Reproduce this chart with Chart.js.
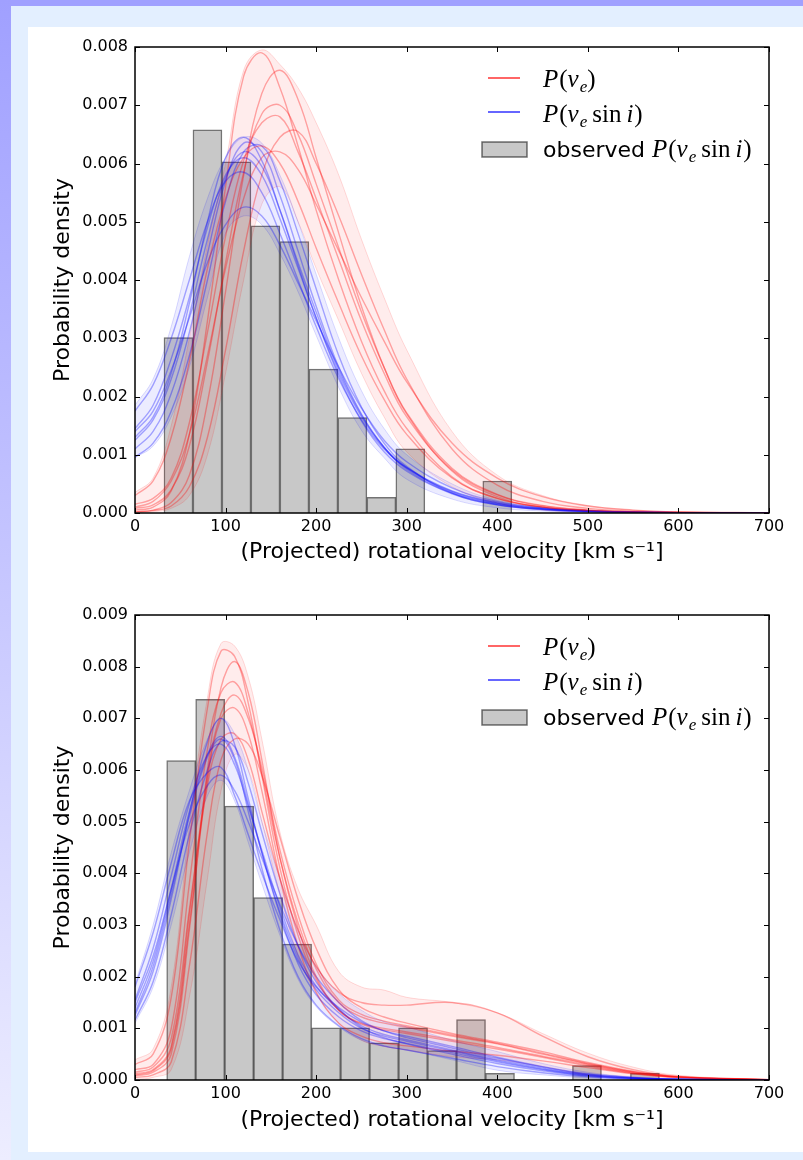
<!DOCTYPE html>
<html lang="en">
<head>
<meta charset="UTF-8">
<title>Rotational velocity distributions</title>
<style>
  html, body { margin: 0; padding: 0; }
  body { width: 803px; height: 1160px; position: relative; overflow: hidden; background: #e3efff; }
  #topband { position: absolute; left: 0; top: 0; width: 803px; height: 6px; background: #a0a0ff; }
  #sideband { position: absolute; left: 0; top: 0; width: 11px; height: 1160px; background: linear-gradient(#a0a0ff, #ededff); }
  #panel { position: absolute; left: 28px; top: 27px; width: 775px; height: 1125px; background: #fff; }
  #panel canvas { position: absolute; left: 0; }
</style>
</head>
<body>
<div id="topband"></div>
<div id="sideband"></div>
<div id="panel">
  <canvas id="chartTop" width="775" height="568" style="top:0"></canvas>
  <canvas id="chartBottom" width="775" height="557" style="top:568px"></canvas>
</div>

<script src="https://cdn.jsdelivr.net/npm/chart.js"></script>
<script>
// all densities below are in units of 1e-3 (per km/s)
const densityUnit = 1e-3;

// ---- top panel ----
const gridTop = [0, 20, 40, 60, 80, 100, 120, 140, 160, 180, 200, 225, 250, 275, 300, 350, 400, 450, 500, 550, 600, 700];

const blueTop = [
  [1.75, 2.2, 3.0, 4.0, 5.0, 5.7, 5.85, 5.5, 4.8, 4.0, 3.2, 2.3, 1.6, 1.1, 0.78, 0.38, 0.18, 0.08, 0.035, 0.015, 0.007, 0.002],
  [1.45, 1.85, 2.65, 3.7, 4.9, 5.8, 6.1, 5.8, 5.05, 4.2, 3.35, 2.4, 1.65, 1.12, 0.78, 0.37, 0.17, 0.075, 0.032, 0.014, 0.006, 0.002],
  [1.25, 1.6, 2.3, 3.4, 4.7, 5.75, 6.2, 5.95, 5.2, 4.3, 3.45, 2.45, 1.68, 1.13, 0.77, 0.36, 0.16, 0.07, 0.03, 0.013, 0.006, 0.002],
  [1.1, 1.4, 2.05, 3.1, 4.45, 5.7, 6.35, 6.2, 5.45, 4.5, 3.55, 2.5, 1.7, 1.13, 0.75, 0.34, 0.15, 0.065, 0.028, 0.012, 0.005, 0.001],
  [0.96, 1.2, 1.75, 2.7, 4.0, 5.35, 6.2, 6.3, 5.7, 4.8, 3.85, 2.7, 1.82, 1.2, 0.8, 0.34, 0.14, 0.058, 0.024, 0.01, 0.004, 0.001],
  [1.4, 1.75, 2.45, 3.35, 4.3, 4.95, 5.25, 5.1, 4.6, 3.95, 3.3, 2.5, 1.8, 1.25, 0.88, 0.43, 0.2, 0.09, 0.04, 0.017, 0.007, 0.002],
  [1.3, 1.65, 2.4, 3.6, 5.0, 6.1, 6.45, 6.05, 5.2, 4.25, 3.35, 2.35, 1.58, 1.05, 0.72, 0.33, 0.14, 0.06, 0.026, 0.011, 0.005, 0.001]
];
const blueTopUpper = [1.85, 2.3, 3.2, 4.4, 5.4, 6.1, 6.45, 6.35, 5.8, 5.0, 4.1, 3.0, 2.1, 1.45, 1.0, 0.5, 0.22, 0.1, 0.045, 0.02, 0.008, 0.002];
const blueTopLower = [0.95, 1.15, 1.65, 2.5, 3.7, 4.8, 5.1, 4.95, 4.45, 3.8, 3.05, 2.15, 1.42, 0.95, 0.58, 0.24, 0.09, 0.035, 0.014, 0.005, 0.002, 0];

const redTop = [
  [0.3, 0.55, 1.3, 2.6, 4.2, 5.4, 6.1, 6.3, 6.0, 5.35, 4.55, 3.6, 2.7, 1.95, 1.35, 0.6, 0.25, 0.1, 0.04, 0.016, 0.006, 0.001],
  [0.15, 0.25, 0.6, 1.55, 3.1, 4.75, 6.05, 6.7, 6.8, 6.2, 5.4, 4.35, 3.3, 2.4, 1.65, 0.74, 0.31, 0.12, 0.05, 0.02, 0.008, 0.002],
  [0.08, 0.14, 0.4, 1.15, 2.6, 4.3, 5.85, 6.85, 7.0, 6.5, 5.65, 4.55, 3.45, 2.5, 1.72, 0.77, 0.32, 0.13, 0.05, 0.02, 0.008, 0.002],
  [0.05, 0.1, 0.38, 1.35, 3.3, 5.6, 7.5, 7.9, 7.3, 6.3, 5.2, 4.0, 2.95, 2.1, 1.45, 0.62, 0.25, 0.1, 0.04, 0.015, 0.006, 0.001],
  [0.02, 0.04, 0.12, 0.45, 1.3, 2.8, 4.5, 5.8, 6.45, 6.55, 6.0, 5.1, 4.1, 3.15, 2.3, 1.1, 0.48, 0.2, 0.08, 0.03, 0.012, 0.002],
  [0.02, 0.05, 0.18, 0.65, 1.9, 3.8, 5.8, 7.2, 7.6, 7.1, 6.1, 4.8, 3.55, 2.5, 1.7, 0.72, 0.28, 0.1, 0.04, 0.015, 0.006, 0.001],
  [0.1, 0.2, 0.55, 1.35, 2.7, 4.2, 5.4, 6.1, 6.2, 5.9, 5.3, 4.5, 3.7, 2.95, 2.25, 1.2, 0.6, 0.28, 0.12, 0.05, 0.02, 0.004]
];
const redTopUpper = [0.35, 0.6, 1.5, 3.0, 4.6, 6.0, 7.6, 7.95, 7.7, 7.3, 6.7, 5.8, 4.7, 3.7, 2.8, 1.4, 0.65, 0.3, 0.13, 0.05, 0.02, 0.004];
const redTopLower = [0, 0.02, 0.08, 0.3, 1.0, 2.4, 4.0, 5.3, 5.6, 5.0, 4.2, 3.3, 2.4, 1.65, 1.05, 0.45, 0.17, 0.05, 0.02, 0.006, 0.002, 0];

const histTopCenters = [48, 80, 112, 144, 176, 208, 240, 272, 304, 336, 368, 400];
const histTopDensity = [3.01, 6.58, 6.03, 4.93, 4.66, 2.47, 1.64, 0.27, 1.10, 0, 0, 0.55];
const yMaxTop = 8;

// ---- bottom panel ----
const gridBottom = [0, 20, 40, 60, 80, 95, 110, 125, 140, 160, 180, 200, 225, 250, 275, 300, 350, 400, 450, 500, 550, 600, 700];

const blueBottom = [
  [1.8, 2.85, 4.2, 5.4, 5.95, 6.05, 5.5, 4.75, 4.0, 3.1, 2.3, 1.8, 1.4, 1.12, 0.95, 0.85, 0.65, 0.44, 0.26, 0.12, 0.05, 0.018, 0.002],
  [1.55, 2.55, 3.95, 5.35, 6.3, 6.5, 6.1, 5.3, 4.45, 3.35, 2.42, 1.82, 1.36, 1.05, 0.88, 0.78, 0.58, 0.39, 0.23, 0.1, 0.04, 0.015, 0.002],
  [1.4, 2.3, 3.7, 5.2, 6.3, 6.65, 6.25, 5.35, 4.4, 3.25, 2.35, 1.75, 1.3, 1.0, 0.85, 0.75, 0.56, 0.37, 0.21, 0.09, 0.035, 0.012, 0.002],
  [1.25, 2.1, 3.5, 5.15, 6.55, 7.0, 6.5, 5.45, 4.4, 3.2, 2.25, 1.65, 1.22, 0.95, 0.8, 0.71, 0.53, 0.35, 0.2, 0.085, 0.03, 0.01, 0.001],
  [1.16, 1.9, 3.2, 4.75, 6.0, 6.55, 6.45, 5.75, 4.8, 3.6, 2.6, 1.9, 1.38, 1.02, 0.82, 0.7, 0.5, 0.32, 0.18, 0.075, 0.028, 0.01, 0.001],
  [1.5, 2.4, 3.7, 4.95, 5.7, 5.9, 5.6, 5.0, 4.3, 3.4, 2.6, 2.0, 1.5, 1.15, 0.95, 0.82, 0.62, 0.42, 0.25, 0.11, 0.045, 0.016, 0.002],
  [1.3, 2.2, 3.6, 5.1, 6.25, 6.6, 6.2, 5.2, 4.1, 2.9, 2.0, 1.45, 1.05, 0.8, 0.66, 0.58, 0.42, 0.26, 0.14, 0.06, 0.02, 0.007, 0.001]
];
const blueBottomUpper = [1.85, 3.0, 4.4, 5.6, 6.6, 7.0, 6.7, 6.0, 5.0, 3.9, 2.9, 2.2, 1.68, 1.35, 1.13, 1.03, 0.77, 0.55, 0.32, 0.15, 0.06, 0.02, 0.003];
const blueBottomLower = [1.1, 1.8, 3.0, 4.4, 5.5, 5.8, 5.4, 4.6, 3.8, 2.8, 1.95, 1.42, 1.03, 0.77, 0.65, 0.58, 0.39, 0.19, 0.1, 0.04, 0.015, 0.005, 0];

const redBottom = [
  [0.3, 0.5, 1.6, 4.6, 7.2, 8.3, 8.2, 7.3, 5.9, 4.1, 2.8, 1.95, 1.35, 1.1, 1.0, 0.93, 0.78, 0.63, 0.46, 0.29, 0.14, 0.055, 0.004],
  [0.2, 0.3, 1.0, 3.8, 6.4, 7.5, 7.7, 7.1, 5.95, 4.3, 3.05, 2.15, 1.5, 1.22, 1.1, 1.02, 0.85, 0.7, 0.5, 0.31, 0.15, 0.06, 0.005],
  [0.12, 0.2, 0.65, 3.2, 5.9, 7.1, 7.45, 7.0, 6.05, 4.45, 3.2, 2.25, 1.55, 1.27, 1.14, 1.05, 0.87, 0.71, 0.52, 0.32, 0.16, 0.06, 0.005],
  [0.05, 0.1, 0.35, 2.2, 4.8, 6.2, 6.6, 6.5, 5.9, 4.7, 3.5, 2.55, 1.75, 1.4, 1.22, 1.1, 0.9, 0.73, 0.55, 0.34, 0.17, 0.065, 0.006],
  [0.08, 0.15, 0.5, 2.9, 6.0, 7.6, 8.1, 7.5, 6.2, 4.3, 2.95, 2.0, 1.35, 1.08, 0.97, 0.9, 0.75, 0.6, 0.44, 0.27, 0.13, 0.05, 0.004],
  [0.15, 0.25, 0.8, 3.3, 5.7, 6.6, 6.7, 6.2, 5.2, 3.9, 2.9, 2.2, 1.7, 1.5, 1.45, 1.45, 1.5, 1.3, 0.85, 0.45, 0.2, 0.07, 0.006],
  [0.1, 0.18, 0.6, 3.0, 5.8, 7.0, 7.2, 6.7, 5.6, 3.9, 2.6, 1.7, 1.1, 0.85, 0.72, 0.66, 0.56, 0.48, 0.37, 0.24, 0.12, 0.045, 0.004]
];
const redBottomUpper = [0.39, 0.6, 1.8, 4.9, 7.4, 8.45, 8.4, 7.8, 6.6, 4.8, 3.7, 3.0, 2.1, 1.8, 1.74, 1.6, 1.5, 1.3, 0.9, 0.52, 0.25, 0.09, 0.01];
const redBottomLower = [0, 0.05, 0.2, 1.6, 3.9, 5.6, 6.3, 6.0, 5.0, 3.6, 2.4, 1.68, 1.1, 0.77, 0.65, 0.58, 0.45, 0.39, 0.26, 0.1, 0.04, 0.01, 0];

const histBottomCenters = [51, 83, 115, 147, 179, 211, 243, 275, 307, 339, 371, 403, 435, 467, 499, 531, 563];
const histBottomDensity = [6.18, 7.37, 5.30, 3.53, 2.63, 1.01, 1.01, 0.72, 1.01, 0.57, 1.17, 0.13, 0, 0, 0.28, 0, 0.13];
const yMaxBottom = 9;

// axis text
const xTitle = '(Projected) rotational velocity [km s\u207B\u00B9]';
const yTitle = 'Probability density';

// legend entries, math parts: i = italic, r = roman, s = subscript, g = small gap
const legendRed = [['P', 'i'], ['(', 'r'], ['v', 'i'], ['e', 's'], [')', 'r']];
const legendBlue = [['P', 'i'], ['(', 'r'], ['v', 'i'], ['e', 's'], ['', 'g'], ['sin', 'r'], ['', 'g'], ['i', 'i'], [')', 'r']];
const legendHistWord = 'observed ';

const SANS = '"DejaVu Sans", "Liberation Sans", sans-serif';
const SERIF = '"Liberation Serif", "DejaVu Serif", serif';

function toPoints(xs, vals) {
  return xs.map((x, i) => ({ x: x, y: vals[i] * densityUnit }));
}

function drawMath(ctx, x, y, parts) {
  parts.forEach(([t, s]) => {
    if (s === 'g') { x += 5; return; }
    let dy = 0;
    if (s === 'i') ctx.font = 'italic 25px ' + SERIF;
    else if (s === 'r') ctx.font = '25px ' + SERIF;
    else { ctx.font = 'italic 17px ' + SERIF; dy = 5; }
    ctx.fillText(t, x, y + dy);
    x += ctx.measureText(t).width + (s === 'i' ? 1 : 0);
  });
  return x;
}

const mathLegend = {
  id: 'mathLegend',
  afterDraw(chart) {
    const { ctx, chartArea: a } = chart;
    ctx.save();
    ctx.textBaseline = 'alphabetic';
    ctx.textAlign = 'left';
    ctx.lineWidth = 1.5;
    // line handles
    ctx.strokeStyle = 'rgba(255,0,0,0.8)';
    ctx.beginPath(); ctx.moveTo(a.left + 353, a.top + 31); ctx.lineTo(a.left + 385, a.top + 31); ctx.stroke();
    ctx.strokeStyle = 'rgba(0,0,255,0.8)';
    ctx.beginPath(); ctx.moveTo(a.left + 353, a.top + 65); ctx.lineTo(a.left + 385, a.top + 65); ctx.stroke();
    // histogram patch
    ctx.fillStyle = '#c8c8c8';
    ctx.fillRect(a.left + 347, a.top + 95, 45, 15);
    ctx.strokeStyle = 'rgba(0,0,0,0.55)';
    ctx.strokeRect(a.left + 347, a.top + 95, 45, 15);
    ctx.fillStyle = '#000';
    drawMath(ctx, a.left + 408, a.top + 40, legendRed);
    drawMath(ctx, a.left + 408, a.top + 75, legendBlue);
    ctx.font = '22px ' + SANS;
    ctx.fillText(legendHistWord, a.left + 408, a.top + 110);
    const w = ctx.measureText(legendHistWord).width;
    drawMath(ctx, a.left + 408 + w, a.top + 110, legendBlue);
    ctx.restore();
  }
};

// matplotlib style frame with inward ticks on all four sides
const frameTicks = {
  id: 'frameTicks',
  afterDatasetsDraw(chart) {
    const { ctx, chartArea: a, scales: { x, y } } = chart;
    ctx.save();
    ctx.strokeStyle = '#000';
    ctx.lineWidth = 1;
    ctx.beginPath();
    x.ticks.forEach(t => {
      const px = Math.round(x.getPixelForValue(t.value)) + 0.5;
      ctx.moveTo(px, a.bottom); ctx.lineTo(px, a.bottom - 5);
      ctx.moveTo(px, a.top); ctx.lineTo(px, a.top + 5);
    });
    y.ticks.forEach(t => {
      const py = Math.round(y.getPixelForValue(t.value)) + 0.5;
      ctx.moveTo(a.left, py); ctx.lineTo(a.left + 5, py);
      ctx.moveTo(a.right, py); ctx.lineTo(a.right - 5, py);
    });
    ctx.stroke();
    ctx.lineWidth = 1.5;
    ctx.strokeRect(a.left, a.top, a.right - a.left, a.bottom - a.top);
    ctx.restore();
  }
};

function curve(data, color, alpha, width) {
  return {
    type: 'line', data: data,
    borderColor: `rgba(${color},${alpha})`, borderWidth: width,
    pointRadius: 0, tension: 0.4, fill: false, order: 1
  };
}

function makeChart(id, grid, reds, blues, bands, centers, dens, yMax, xAxisH, titlePad) {
  const datasets = [];
  for (let i = 0; i < reds.length; i++) {
    datasets.push(curve(toPoints(grid, blues[i]), '0,0,255', 0.33, 1.4));
    datasets.push(curve(toPoints(grid, reds[i]), '255,0,0', 0.33, 1.4));
  }
  // faint envelopes of the sample curves (upper fills down to lower)
  bands.forEach(([upper, lower, color]) => {
    const up = curve(toPoints(grid, upper), color, 0.14, 1);
    up.fill = '+1';
    up.backgroundColor = `rgba(${color},0.075)`;
    up.order = 5;
    const lo = curve(toPoints(grid, lower), color, 0.14, 1);
    lo.order = 5;
    datasets.push(up, lo);
  });
  datasets.push({
    type: 'bar', data: toPoints(centers, dens),
    backgroundColor: '#c8c8c8', borderColor: 'rgba(0,0,0,0.55)', borderWidth: 1.5,
    barPercentage: 1, categoryPercentage: 1, order: 10
  });

  return new Chart(document.getElementById(id), {
    type: 'bar',
    data: { datasets: datasets },
    options: {
      responsive: false,
      animation: false,
      devicePixelRatio: 1,
      layout: { padding: { top: 20, right: 34, left: 0, bottom: 0 } },
      plugins: { legend: { display: false }, tooltip: { enabled: false } },
      scales: {
        x: {
          type: 'linear', min: 0, max: 700, offset: false,
          ticks: { stepSize: 100, color: '#000', padding: 4, maxRotation: 0, autoSkip: false,
                   font: { family: SANS, size: 16 } },
          grid: { display: false, drawTicks: false, offset: false },
          border: { display: false },
          title: { display: true, text: xTitle, color: '#000',
                   font: { family: SANS, size: 22 }, padding: { top: 0, bottom: titlePad } },
          afterFit: s => { s.height = xAxisH; }
        },
        y: {
          min: 0, max: yMax * densityUnit,
          ticks: { stepSize: densityUnit, color: '#000', padding: 7,
                   font: { family: SANS, size: 16 },
                   callback: v => v.toFixed(3) },
          grid: { display: false, drawTicks: false },
          border: { display: false },
          title: { display: true, text: yTitle, color: '#000',
                   font: { family: SANS, size: 22 }, padding: { top: 22, bottom: 0 } },
          afterFit: s => { s.width = 107; }
        }
      }
    },
    plugins: [frameTicks, mathLegend]
  });
}

makeChart('chartTop', gridTop, redTop, blueTop,
  [[blueTopUpper, blueTopLower, '0,0,255'], [redTopUpper, redTopLower, '255,0,0']],
  histTopCenters, histTopDensity, yMaxTop, 82, 30);
makeChart('chartBottom', gridBottom, redBottom, blueBottom,
  [[blueBottomUpper, blueBottomLower, '0,0,255'], [redBottomUpper, redBottomLower, '255,0,0']],
  histBottomCenters, histBottomDensity, yMaxBottom, 72, 19);
</script>
</body>
</html>
